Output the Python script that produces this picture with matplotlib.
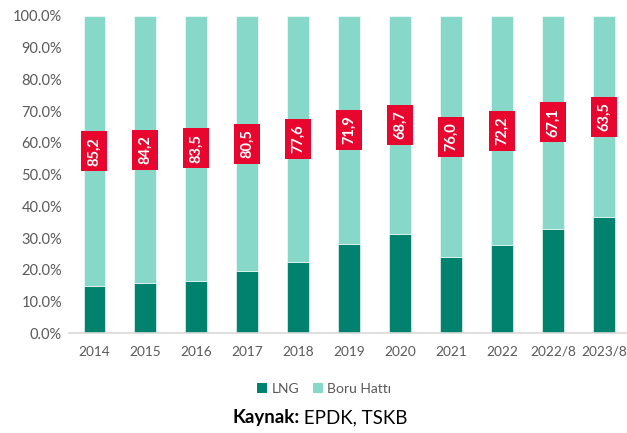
"""
LNG vs Boru Hatti import shares, 100% stacked bars
"""
import matplotlib.pyplot as plt
from matplotlib.patches import Rectangle, Patch
from matplotlib.ticker import FuncFormatter

plt.rcParams['font.family'] = ['Lato', 'DejaVu Sans']

# data (percent shares)
years = ['2014', '2015', '2016', '2017', '2018', '2019', '2020', '2021', '2022', '2022/8', '2023/8']
lng = [14.8, 15.8, 16.5, 19.5, 22.4, 28.1, 31.3, 24.0, 27.8, 32.9, 36.5]
boru = [85.2, 84.2, 83.5, 80.5, 77.6, 71.9, 68.7, 76.0, 72.2, 67.1, 63.5]
boru_labels = ['85,2', '84,2', '83,5', '80,5', '77,6', '71,9', '68,7', '76,0', '72,2', '67,1', '63,5']

c_lng = '#00826f'
c_boru = '#88d8ca'
c_red = '#e8062f'
c_text = '#595959'

fig = plt.figure(figsize=(6.27, 4.33), dpi=100)
ax = fig.add_axes([69 / 627, 1 - 333.3 / 433, 558 / 627, 317.3 / 433])

x = list(range(len(years)))
ax.bar(x, lng, width=0.43, color=c_lng, edgecolor='white', linewidth=0.4)
ax.bar(x, boru, width=0.43, bottom=lng, color=c_boru, edgecolor='white', linewidth=0.4)

# red label boxes centred in the Boru Hattı segment
box_w, box_h = 0.51, 12.6
for xi, lo, b, lab in zip(x, lng, boru, boru_labels):
    yc = lo + b / 2
    ax.add_patch(Rectangle((xi - box_w / 2, yc - box_h / 2), box_w, box_h,
                           facecolor=c_red, edgecolor='none', zorder=3))
    ax.text(xi, yc, lab, rotation=90, ha='center', va='center', color='white',
            fontsize=10.5, fontweight='bold', zorder=4)

ax.set_xlim(-0.5, 10.45)
ax.set_ylim(0, 100)
ax.set_yticks(range(0, 101, 10))
ax.yaxis.set_major_formatter(FuncFormatter(lambda v, p: f'{v:.1f}%'))
ax.set_xticks(x)
ax.set_xticklabels(years)
ax.tick_params(axis='both', length=0, colors=c_text)
ax.tick_params(axis='x', pad=9, labelsize=9.8)
ax.tick_params(axis='y', pad=5, labelsize=10.5)
for s in ['top', 'right', 'left']:
    ax.spines[s].set_visible(False)
ax.spines['bottom'].set_color('#d9d9d9')
ax.spines['bottom'].set_linewidth(1.2)

handles = [Patch(facecolor=c_lng, label='LNG'), Patch(facecolor=c_boru, label='Boru Hattı')]
leg = fig.legend(handles=handles, loc='center', bbox_to_anchor=(0.517, 1 - 389 / 433),
                 ncol=2, frameon=False, fontsize=10, handlelength=0.7, handleheight=0.7,
                 handletextpad=0.3, columnspacing=1.0)
for t in leg.get_texts():
    t.set_color(c_text)

t1 = fig.text(232 / 627, 1 - 418 / 433, 'Kaynak:', fontsize=13.5, fontweight='bold',
              ha='left', va='center', color='black')
ax.annotate(' EPDK, TSKB', xy=(1, 0), xycoords=t1, ha='left', va='bottom',
            fontsize=13.5, color='black', annotation_clip=False)

fig.savefig('out.png', dpi=100)
